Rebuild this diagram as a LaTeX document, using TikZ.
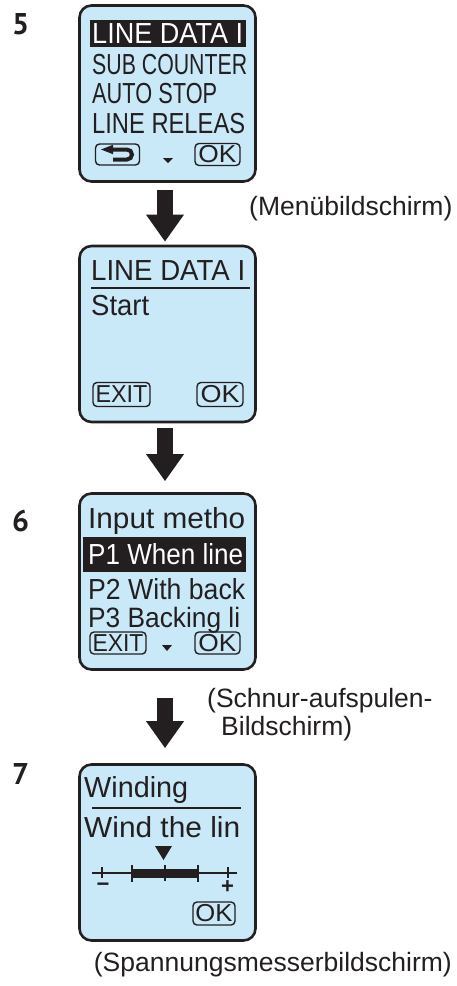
\documentclass[tikz,border=0pt]{standalone}
\usepackage{fontspec}
\setmainfont{Liberation Sans}
\newfontfamily\numfont{PT Sans}
\usetikzlibrary{arrows.meta}
\definecolor{ink}{HTML}{231F20}
\definecolor{lcd}{HTML}{C9E9F8}
\newcommand{\fitto}[2]{\resizebox{#1pt}{\height}{#2}}
\begin{document}
\begin{tikzpicture}[x=1pt,y=-1pt,
  screen/.style={draw=ink, line width=2.6pt, fill=lcd, rounded corners=12pt, minimum width=176pt, minimum height=176pt, inner sep=0pt},
  lcdtxt/.style={anchor=base west, inner sep=0pt, text=ink, font=\fontsize{29}{29}\selectfont},
  btn/.style={draw=ink, line width=1.4pt, rounded corners=4pt, inner sep=0pt, text=ink, font=\fontsize{24.5}{24.5}\selectfont},
  caption/.style={anchor=base west, inner sep=0pt, text=ink, font=\fontsize{26.5}{30}\selectfont},
  stepnum/.style={anchor=north west, inner sep=0pt, text=ink, font=\numfont\bfseries\fontsize{30}{30}\selectfont},
  flow/.style={draw=ink, line width=16pt, -{Triangle[width=36pt,length=27pt]}},
  thin/.style={draw=ink, line width=1.3pt},
]
\useasboundingbox (0,0) rectangle (457,986);
% screens
\node[screen] (s1) at (167.5,93.5) {};
\node[screen] (s2) at (167.5,334) {};
\node[screen] (s3) at (167.5,581.5) {};
\node[screen] (s4) at (167.5,852.5) {};
% arrows
\draw[flow, shorten <=7pt, shorten >=3pt] ([xshift=-2.5pt]s1.south) -- ([xshift=-2.5pt]s2.north);
\draw[flow, shorten <=5pt, shorten >=11pt] ([xshift=-2.5pt]s2.south) -- ([xshift=-2.5pt]s3.north);
\draw[flow, shorten <=27pt, shorten >=15pt] ([xshift=-2.5pt]s3.south) -- ([xshift=-2.5pt]s4.north);
% step numbers
\node[stepnum] (n5) at (12,13) {5};
\node[stepnum] (n6) at (12,510) {6};
\node[stepnum] (n7) at (12,763) {7};
% captions
\node[caption] (c1) at (249,215) {(Menübildschirm)};
\node[caption] (c2) at (207,707) {(Schnur-aufspulen-};
\node[caption] (c3) at (221,735) {Bildschirm)};
\node[caption, anchor=base east] (c4) at (452,971) {(Spannungsmesserbildschirm)};
% screen 1
\fill[ink] (90,20) rectangle (246,47);
\node[lcdtxt, text=white] (t11) at (92,43.5) {\fitto{151}{LINE DATA I}};
\node[lcdtxt] (t12) at (92,74) {\fitto{155}{SUB COUNTER}};
\node[lcdtxt] (t13) at (92,103) {\fitto{125}{AUTO STOP}};
\node[lcdtxt] (t14) at (92,133.5) {\fitto{153}{LINE RELEAS}};
\node[btn, minimum width=44pt, minimum height=21pt] (back) at (117.5,154.5) {};
\fill[ink] (101,149.5) -- (113,144.8) -- (113,154.2) -- cycle;
\draw[ink, line width=4pt] (112,149.5) -- (127,149.5) arc[start angle=-90, end angle=90, radius=5] -- (113,159.5);
\fill[ink] (163,158) -- (173,158) -- (168,163) -- cycle;
\node[btn, minimum width=45pt, minimum height=22pt] (ok1) at (217.5,154.5) {\fitto{38}{OK}};
% screen 2
\node[lcdtxt] (t21) at (91,280.5) {\fitto{154}{LINE DATA I}};
\draw[thin] (91,288) -- (250,288);
\node[lcdtxt] (t22) at (91,315) {\fitto{58}{Start}};
\node[btn, minimum width=57pt, minimum height=24pt] (exit2) at (121.5,394.5) {\fitto{52}{EXIT}};
\node[btn, minimum width=46pt, minimum height=24pt] (ok2) at (220,394.5) {\fitto{39}{OK}};
% screen 3
\node[lcdtxt] (t31) at (88,528.5) {\fitto{157}{Input metho}};
\fill[ink] (83,537) rectangle (246,572);
\node[lcdtxt, text=white] (t32) at (88,564) {\fitto{155}{P1 When line}};
\node[lcdtxt] (t33) at (88,599) {\fitto{157}{P2 With back}};
\node[lcdtxt, font=\fontsize{28}{28}\selectfont] (t34) at (88,627) {\fitto{152}{P3 Backing li}};
\node[btn, minimum width=56pt, minimum height=22pt] (exit3) at (118,643) {\fitto{51}{EXIT}};
\fill[ink] (162,645) -- (172,645) -- (167,651) -- cycle;
\node[btn, minimum width=45pt, minimum height=22pt] (ok3) at (217.5,643) {\fitto{38}{OK}};
% screen 4
\node[lcdtxt] (t41) at (84,797.5) {\fitto{104}{Winding}};
\draw[thin] (92,808) -- (241,808);
\node[lcdtxt] (t42) at (84,837.5) {\fitto{156}{Wind the lin}};
\fill[ink] (155,846) -- (172,846) -- (163.5,860) -- cycle;
\draw[thin] (92,873) -- (237,873);
\fill[ink] (132,869) rectangle (198,878);
\draw[ink, line width=2.5pt] (132,865) -- (132,882) (198,865) -- (198,882);
\draw[thin] (165,865) -- (165,881);
\draw[thin] (102,867) -- (102,878) (228,867) -- (228,878);
\node[inner sep=0pt, text=ink, font=\bfseries\fontsize{22}{22}\selectfont] (minus) at (103,887) {\textminus};
\node[inner sep=0pt, text=ink, font=\bfseries\fontsize{22}{22}\selectfont] (plus) at (227.5,887.5) {+};
\node[btn, minimum width=42pt, minimum height=23pt] (ok4) at (214,913.5) {\fitto{37}{OK}};
\end{tikzpicture}
\end{document}
